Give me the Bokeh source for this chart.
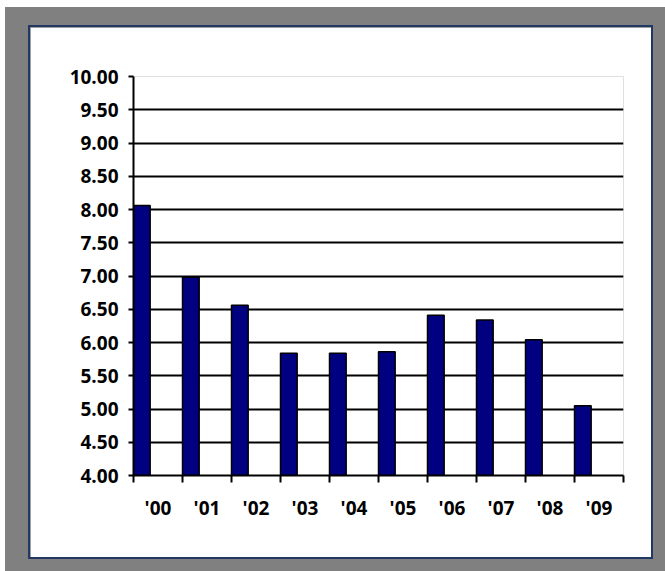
from bokeh.plotting import figure
from bokeh.layouts import column
from bokeh.models import FixedTicker, NumeralTickFormatter, Range1d
from bokeh.embed import file_html
from bokeh.resources import INLINE

years = ["'00", "'01", "'02", "'03", "'04", "'05", "'06", "'07", "'08", "'09"]
values = [8.06, 6.98, 6.56, 5.84, 5.84, 5.86, 6.41, 6.34, 6.04, 5.05]
y_ticks = [4.0, 4.5, 5.0, 5.5, 6.0, 6.5, 7.0, 7.5, 8.0, 8.5, 9.0, 9.5, 10.0]

# inner white panel (30,27)-(651,557) with 2px border outside ; frame (133,76)-(623,475)
PW, PH = 621, 530
p = figure(width=PW, height=PH, output_backend="svg", toolbar_location=None,
           x_range=Range1d(0, len(years)), y_range=Range1d(4, 10),
           min_border_left=103, min_border_right=28, min_border_top=49, min_border_bottom=82,
           margin=(20, 0, 0, 25),
           styles={"outline": "2px solid #1f3864"})
p.border_fill_color = "white"
p.background_fill_color = "white"
p.outline_line_color = None

xs = [i + 0.17 for i in range(len(years))]
p.vbar(x=xs, top=values, bottom=4, width=0.34, fill_color="#000080",
       line_color="black", line_width=1.5)

# axes
p.xaxis.ticker = FixedTicker(ticks=[i + 0.5 for i in range(len(years))],
                             minor_ticks=list(range(len(years) + 1)))
p.xaxis.major_label_overrides = {i + 0.5: y for i, y in enumerate(years)}
p.xaxis.major_tick_line_color = None
p.xaxis.major_tick_out = 0
p.xaxis.major_tick_in = 0
p.xaxis.minor_tick_line_color = "black"
p.xaxis.minor_tick_line_width = 2
p.xaxis.minor_tick_out = 7
p.xaxis.minor_tick_in = 0
p.xaxis.major_label_standoff = 12
p.xaxis.axis_line_color = "black"
p.xaxis.axis_line_width = 2

p.yaxis.ticker = FixedTicker(ticks=y_ticks, minor_ticks=[])
p.yaxis.formatter = NumeralTickFormatter(format="0.00")
p.yaxis.major_tick_out = 5
p.yaxis.major_tick_in = 0
p.yaxis.major_tick_line_width = 2
p.yaxis.major_label_standoff = 10
p.yaxis.axis_line_width = 2

for ax in (p.xaxis, p.yaxis):
    ax.major_label_text_font = "Open Sans"
    ax.major_label_text_font_style = "bold"
    ax.major_label_text_font_size = "19px"
    ax.major_label_text_color = "black"

p.xgrid.grid_line_color = None
p.ygrid.ticker = FixedTicker(ticks=y_ticks)
p.ygrid.grid_line_color = "black"
p.ygrid.grid_line_width = 2

root = column(p, width=660, height=564, margin=(7, 0, 0, 5),
              styles={"background-color": "#808080"})

open("out.html", "w").write(file_html(root, INLINE))
